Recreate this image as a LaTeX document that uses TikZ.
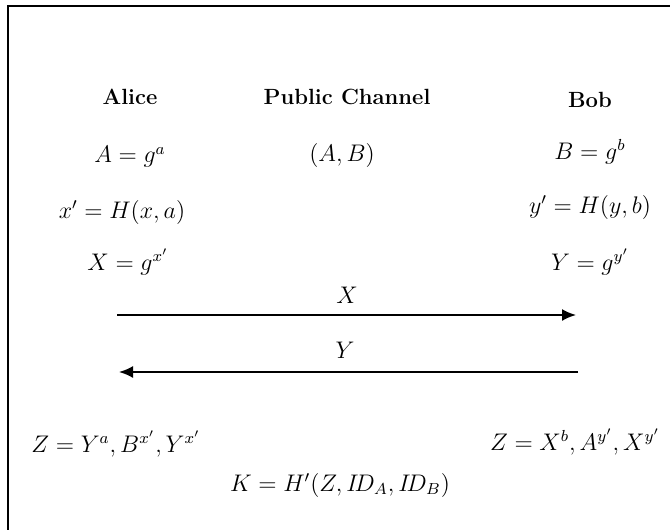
\documentclass[tikz,border=0pt]{standalone}
\usetikzlibrary{arrows.meta}

\begin{document}
\begin{tikzpicture}[
	x=0.5pt, y=-0.5pt,
	party/.style={ font=\fontsize{11}{13}\selectfont\bfseries, inner sep=1pt },
	term/.style={ font=\large, inner sep=1pt },
	msg/.style={ line width=1pt, -{Latex[length=7pt,width=6pt]} }
]

\useasboundingbox (0,0) rectangle (670,530);
\draw[line width=1.2pt] (8,530) -- (8,6) -- (670,6);

\node at (130,97) (alice) [party] {Alice};
\node at (347,97) (chan) [party] {Public Channel};
\node at (590,100) (bob) [party] {Bob};

\node at (130,157) (pa) [term] {$A = g^{a}$};
\node at (342,155) (pab) [term] {$(A,B)$};
\node at (590,152) (pb) [term] {$B = g^{b}$};

\node at (122,212) (hx) [term] {$x' = H(x,a)$};
\node at (590,207) (hy) [term] {$y' = H(y,b)$};

\node at (128,262) (bx) [term] {$X = g^{x'}$};
\node at (590,262) (by) [term] {$Y = g^{y'}$};

\coordinate (xs) at (117,315);
\coordinate (xe) at (576,315);
\node at (347,295) (lx) [term] {$X$};
\draw[msg] (xs) -- (xe);

\coordinate (ys) at (578,372);
\coordinate (ye) at (119,372);
\node at (345,350) (ly) [term] {$Y$};
\draw[msg] (ys) -- (ye);

\node at (116,444) (za) [term] {$Z = Y^{a}, B^{x'}, Y^{x'}$};
\node at (575,442) (zb) [term] {$Z = X^{b}, A^{y'}, X^{y'}$};

\node at (340,485) (key) [term] {$K = H'(Z, I\!D_{A}, I\!D_{B})$};

\end{tikzpicture}
\end{document}
